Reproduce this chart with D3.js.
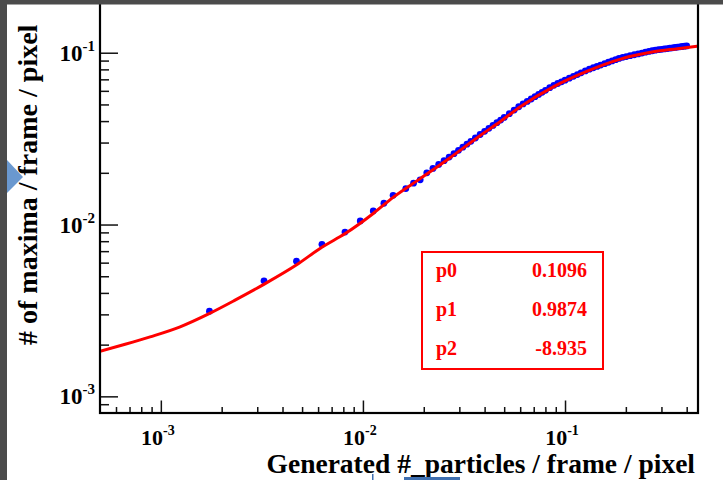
<!DOCTYPE html>
<html>
<head>
<meta charset="utf-8">
<script src="https://cdn.jsdelivr.net/npm/d3@7"></script>
<style>
  html, body { margin: 0; padding: 0; background: #ffffff; }
  svg { display: block; }
  text { font-family: "Liberation Serif", "Times New Roman", serif; font-weight: bold; }
</style>
</head>
<body>
<svg id="chart" width="723" height="480"></svg>
<script>
// ---------- data ----------
const dataX = [
  0.00174, 0.00324, 0.00469, 0.00627, 0.00815, 0.0097, 0.01125, 0.0127, 0.0141, 0.0163, 0.0178, 0.0192,
  0.0207, 0.0222, 0.0237, 0.0252, 0.0267, 0.0282, 0.0297, 0.0312, 0.0327, 0.0342, 0.036, 0.038,
  0.040, 0.042, 0.044, 0.046, 0.048, 0.050, 0.053, 0.056, 0.059, 0.062, 0.065, 0.068, 0.071, 0.074,
  0.077, 0.080, 0.084, 0.088, 0.092, 0.096, 0.100, 0.105, 0.110, 0.115, 0.120, 0.126, 0.132, 0.138,
  0.144, 0.150, 0.157, 0.164, 0.171, 0.178, 0.185, 0.193, 0.201, 0.210, 0.220, 0.230, 0.240, 0.250,
  0.260, 0.270, 0.280, 0.290, 0.300, 0.310, 0.320, 0.330, 0.340, 0.350, 0.360, 0.370, 0.380, 0.390, 0.400
];
const dataY = [
  0.00313, 0.00470, 0.00612, 0.00767, 0.00904, 0.0105, 0.0120, 0.0133, 0.0148, 0.0162, 0.0174, 0.0182,
  0.0200, 0.0212, 0.02238, 0.02353, 0.02468, 0.02585, 0.02704, 0.02821, 0.02937, 0.03052, 0.0319, 0.03342,
  0.03487, 0.03631, 0.03773, 0.03915, 0.04055, 0.04202, 0.04419, 0.04634, 0.04848, 0.05037, 0.05209, 0.0538, 0.05548, 0.05715,
  0.0588, 0.06042, 0.06256, 0.06462, 0.06618, 0.06772, 0.06921, 0.07107, 0.07287, 0.07464, 0.07638, 0.0784, 0.08021, 0.08174,
  0.08324, 0.08471, 0.08638, 0.08801, 0.08961, 0.09115, 0.09267, 0.09399, 0.09498, 0.09612, 0.0973, 0.09845, 0.09956, 0.1007,
  0.1017, 0.1027, 0.1035, 0.1041, 0.1046, 0.1052, 0.1057, 0.1063, 0.1068, 0.1073, 0.1078, 0.1082, 0.1087, 0.1091, 0.1096
];
const fitX = [0.0005, 0.000666, 0.000885, 0.001246, 0.001734, 0.00233, 0.00325, 0.00468, 0.00629, 0.00817,
  0.01125, 0.0141, 0.0192, 0.0270, 0.0381, 0.0479, 0.0601, 0.0875, 0.1289, 0.188, 0.2735, 0.360, 0.452];
const fitY = [0.00183, 0.00201, 0.00222, 0.00254, 0.00303, 0.00363, 0.00450, 0.00581, 0.00740, 0.00886,
  0.0116, 0.0144, 0.0185, 0.0245, 0.0330, 0.0398, 0.0485, 0.0633, 0.0781, 0.0918, 0.1012, 0.1056, 0.1093];

const xMajorTicks = [1e-3, 1e-2, 1e-1];
const xMinorTicks = [6e-4, 7e-4, 8e-4, 9e-4, 2e-3, 3e-3, 4e-3, 5e-3, 6e-3, 7e-3, 8e-3, 9e-3,
  2e-2, 3e-2, 4e-2, 5e-2, 6e-2, 7e-2, 8e-2, 9e-2, 2e-1, 3e-1, 4e-1];
const yMajorTicks = [1e-3, 1e-2, 1e-1];
const yMinorTicks = [9e-4, 2e-3, 3e-3, 4e-3, 5e-3, 6e-3, 7e-3, 8e-3, 9e-3,
  2e-2, 3e-2, 4e-2, 5e-2, 6e-2, 7e-2, 8e-2, 9e-2];
const xTickExponents = ["-3", "-2", "-1"];
const yTickExponents = ["-3", "-2", "-1"];

const xTitle = "Generated #_particles / frame / pixel";
const yTitle = "# of maxima / frame / pixel";
const paramNames = ["p0", "p1", "p2"];
const paramValues = ["0.1096", "0.9874", "-8.935"];

// ---------- drawing ----------
const svg = d3.select("#chart");
const L = 100, R = 698, T = 1, B = 413;

const x = d3.scaleLog().domain([5e-4, 0.455]).range([L, R]);
const y = d3.scaleLog().domain([8e-4, 0.2]).range([B, T]);

svg.append("rect").attr("width", 723).attr("height", 480).attr("fill", "#ffffff");

svg.append("defs").append("clipPath").attr("id", "clip")
  .append("rect").attr("x", L).attr("y", T).attr("width", R - L).attr("height", B - T);

// axes ticks (inward)
const gY1 = svg.append("g").attr("transform", `translate(${L},0)`)
  .call(d3.axisLeft(y).tickValues(yMajorTicks).tickSize(-18).tickFormat(""));
const gY2 = svg.append("g").attr("transform", `translate(${L},0)`)
  .call(d3.axisLeft(y).tickValues(yMinorTicks).tickSize(-9).tickFormat(""));
const gX1 = svg.append("g").attr("transform", `translate(0,${B})`)
  .call(d3.axisBottom(x).tickValues(xMajorTicks).tickSize(-12.5).tickFormat(""));
const gX2 = svg.append("g").attr("transform", `translate(0,${B})`)
  .call(d3.axisBottom(x).tickValues(xMinorTicks).tickSize(-6).tickFormat(""));
[gY1, gY2, gX1, gX2].forEach(g => {
  g.select(".domain").remove();
  g.selectAll(".tick line").attr("stroke", "#111").attr("stroke-width", 1.5);
});

// data points
const pts = dataX.map((d, i) => [d, dataY[i]]);
svg.append("g").attr("clip-path", "url(#clip)")
  .selectAll("circle").data(pts).join("circle")
  .attr("cx", d => x(d[0])).attr("cy", d => y(d[1])).attr("r", 3.4)
  .attr("fill", "#0000ff");

// fit line
const fitPts = fitX.map((d, i) => [d, fitY[i]]);
svg.append("path").datum(fitPts)
  .attr("clip-path", "url(#clip)")
  .attr("d", d3.line().x(d => x(d[0])).y(d => y(d[1])).curve(d3.curveMonotoneX))
  .attr("fill", "none").attr("stroke", "#ff0000").attr("stroke-width", 3);

// frame
svg.append("rect").attr("x", L).attr("y", T).attr("width", R - L).attr("height", B - T)
  .attr("fill", "none").attr("stroke", "#000").attr("stroke-width", 2.2);

// y tick labels
yMajorTicks.forEach((v, i) => {
  const t = svg.append("text").attr("x", 95).attr("y", y(v) + 8)
    .attr("text-anchor", "end").attr("font-size", 23).attr("fill", "#000");
  t.append("tspan").text("10");
  t.append("tspan").attr("font-size", 15).attr("dy", -10).text(yTickExponents[i]);
});
// x tick labels
xMajorTicks.forEach((v, i) => {
  const t = svg.append("text").attr("x", x(v) - 3).attr("y", 445)
    .attr("text-anchor", "middle").attr("font-size", 22).attr("fill", "#000");
  t.append("tspan").text("10");
  t.append("tspan").attr("font-size", 14).attr("dy", -10).text(xTickExponents[i]);
});

// axis titles
svg.append("text").attr("x", 695).attr("y", 473).attr("text-anchor", "end")
  .attr("font-size", 27.5).attr("fill", "#000").text(xTitle);
svg.append("text").attr("transform", "translate(37,345) rotate(-90)")
  .attr("text-anchor", "start").attr("font-size", 28).attr("fill", "#000").text(yTitle);

// fit parameter box
svg.append("rect").attr("x", 422).attr("y", 252).attr("width", 181).attr("height", 117)
  .attr("fill", "#fff").attr("stroke", "#ff0000").attr("stroke-width", 2);
paramNames.forEach((n, i) => {
  const by = 277 + i * 39;
  svg.append("text").attr("x", 436).attr("y", by).attr("font-size", 20)
    .attr("fill", "#ff0000").text(n);
  svg.append("text").attr("x", 587).attr("y", by).attr("font-size", 20)
    .attr("text-anchor", "end").attr("fill", "#ff0000").text(paramValues[i]);
});

// screenshot surroundings
svg.append("rect").attr("x", 0).attr("y", 0).attr("width", 723).attr("height", 4.5).attr("fill", "#4b4b4b");
svg.append("rect").attr("x", 0).attr("y", 0).attr("width", 7).attr("height", 480).attr("fill", "#4b4b4b");
svg.append("path").attr("d", "M7,160 L23,177 L7,193 Z").attr("fill", "#6a98cf");
svg.append("rect").attr("x", 404).attr("y", 477).attr("width", 56).attr("height", 3).attr("fill", "#3f6fb0");
svg.append("rect").attr("x", 372).attr("y", 474).attr("width", 1.5).attr("height", 6).attr("fill", "#3f6fb0");
</script>
</body>
</html>
